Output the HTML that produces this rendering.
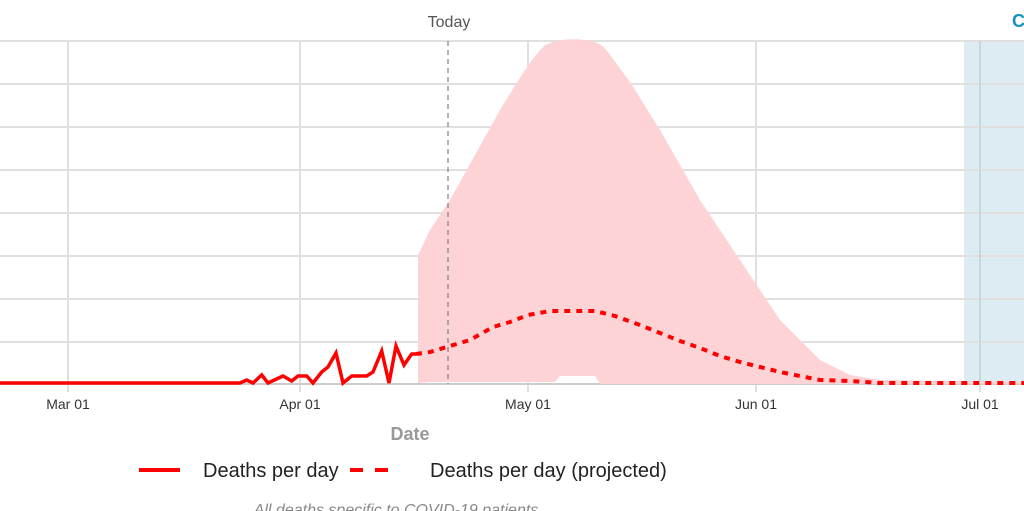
<!DOCTYPE html>
<html><head><style>
body{margin:0;background:#fff;width:1024px;height:511px;overflow:hidden}
svg{display:block;font-family:"Liberation Sans",sans-serif}
</style></head><body>
<svg width="1024" height="511" xmlns="http://www.w3.org/2000/svg">
<rect x="964" y="41" width="60" height="343" fill="#ddebf3"/>
<g stroke="#e0e0e0" stroke-width="2">
<line x1="0" y1="41" x2="1024" y2="41"/><line x1="0" y1="84" x2="1024" y2="84"/>
<line x1="0" y1="127" x2="1024" y2="127"/><line x1="0" y1="170" x2="1024" y2="170"/>
<line x1="0" y1="213" x2="1024" y2="213"/><line x1="0" y1="256" x2="1024" y2="256"/>
<line x1="0" y1="299" x2="1024" y2="299"/><line x1="0" y1="342" x2="1024" y2="342"/>
<line x1="68" y1="41" x2="68" y2="392"/><line x1="300" y1="41" x2="300" y2="392"/>
<line x1="528" y1="41" x2="528" y2="392"/><line x1="756" y1="41" x2="756" y2="392"/>
<line x1="980" y1="41" x2="980" y2="392"/>
</g>
<line x1="980" y1="41" x2="980" y2="384" stroke="#c8d6de" stroke-width="2"/>
<line x1="0" y1="384" x2="1024" y2="384" stroke="#ccc" stroke-width="2"/>
<path fill="#fdd3d5" d="M418,383 L418,255 430,230 450,200 500,110 C520,78 530,60 545,45 C555,40 570,38 585,40 C595,41 603,44 610,55 L630,82 660,130 700,200 740,260 780,320 820,360 850,375 880,380 1024,382 1024,384 600,384 595,376 560,376 555,382 430,382 Z"/>
<line x1="448" y1="41" x2="448" y2="384" stroke="#888" stroke-width="1.3" stroke-dasharray="5,4"/>
<polyline fill="none" stroke="#f00" stroke-width="3.5" stroke-linejoin="miter" points="0,383 240,383 246.7,380 253,383 261.7,375 268,383 283,376 291.7,381 298,376 306.7,376 313,383 321.7,372 328,367 336,353 343,383 351.7,376 366.7,376 373,372 381.7,351 389,383 396,346 404,365 411.7,354 416,354"/>
<polyline fill="none" stroke="#f00" stroke-width="4" stroke-dasharray="6,6" points="416,354 430,352 450,346 470,340 493,327 510,322 528,315 550,311 595,311 615,316 640,325 660,333 680,341 700,348 720,356 740,362 760,367 780,372 800,376 820,380 850,381 880,383 1024,383"/>
<g font-size="14" fill="#333" text-anchor="middle">
<text x="68" y="409">Mar 01</text><text x="300" y="409">Apr 01</text>
<text x="528" y="409">May 01</text><text x="756" y="409">Jun 01</text>
<text x="980" y="409">Jul 01</text>
<text x="449" y="27" font-size="16" fill="#555">Today</text>
</g>
<text x="1012" y="27" font-size="18" font-weight="bold" fill="#1a8fbd">C</text>
<text x="410" y="440" font-size="18" font-weight="bold" fill="#999" text-anchor="middle">Date</text>
<line x1="139" y1="470" x2="180" y2="470" stroke="#f00" stroke-width="4"/>
<text x="203" y="477" font-size="20" fill="#222">Deaths per day</text>
<line x1="350" y1="470" x2="363" y2="470" stroke="#f00" stroke-width="4"/>
<line x1="375" y1="470" x2="388" y2="470" stroke="#f00" stroke-width="4"/>
<text x="430" y="477" font-size="20" fill="#222">Deaths per day (projected)</text>
<text x="396" y="515" font-size="16" font-style="italic" fill="#888" text-anchor="middle">All deaths specific to COVID-19 patients</text>
</svg>
</body></html>
